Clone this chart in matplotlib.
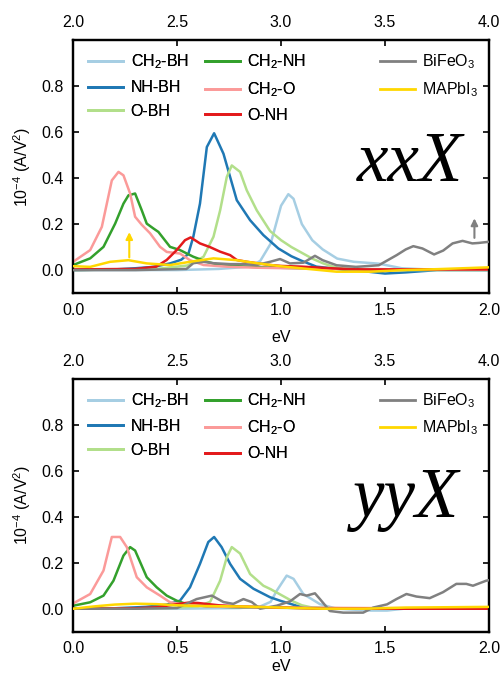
import numpy as np
import matplotlib.pyplot as plt
from matplotlib.lines import Line2D

plt.rcParams['font.family'] = ['Liberation Sans', 'DejaVu Sans']
plt.rcParams['mathtext.default'] = 'regular'
plt.rcParams['font.size'] = 11.5

labels = ['CH$_2$-BH', 'NH-BH', 'O-BH', 'CH$_2$-NH', 'CH$_2$-O', 'O-NH']
colors = ['#a6cee3', '#1f78b4', '#b2df8a', '#33a02c', '#fb9a99', '#e31a1c']
ref_labels = ['BiFeO$_3$', 'MAPbI$_3$']
ref_colors = ['#808080', '#ffd700']

# ---- xxX component (bottom axis, eV) ----
xx_ch2bh_x = [0, 0.5, 0.7, 0.85, 0.9, 0.95, 1.0, 1.035, 1.06, 1.1, 1.15, 1.2, 1.27, 1.35, 1.47, 1.58, 1.7, 2.0]
xx_ch2bh_y = [0, 0.0, 0.005, 0.015, 0.04, 0.115, 0.28, 0.33, 0.31, 0.2, 0.13, 0.09, 0.05, 0.036, 0.028, 0.008, 0.003, 0.0]

xx_nhbh_x = [0, 0.2, 0.3, 0.386, 0.466, 0.52, 0.554, 0.578, 0.61, 0.643, 0.678, 0.723, 0.755, 0.787,
             0.851, 0.915, 0.987, 1.05, 1.1, 1.17, 1.3, 1.4, 1.5, 1.6, 1.75, 2.0]
xx_nhbh_y = [0, 0.003, 0.008, 0.014, 0.029, 0.045, 0.07, 0.145, 0.289, 0.535, 0.595, 0.506, 0.405, 0.304,
             0.217, 0.152, 0.094, 0.06, 0.04, 0.015, 0.002, -0.005, -0.015, -0.01, 0.0, 0.0]

xx_obh_x = [0, 0.4, 0.55, 0.627, 0.675, 0.707, 0.739, 0.763, 0.803, 0.835, 0.883, 0.947, 1.0, 1.05,
            1.1, 1.15, 1.2, 1.25, 1.3, 1.4, 2.0]
xx_obh_y = [0, 0.005, 0.02, 0.058, 0.145, 0.26, 0.405, 0.455, 0.427, 0.347, 0.26, 0.17, 0.13, 0.1,
            0.075, 0.05, 0.03, 0.015, 0.005, 0.0, 0.0]

xx_ch2nh_x = [0, 0.082, 0.146, 0.202, 0.242, 0.266, 0.298, 0.33, 0.354, 0.386, 0.41, 0.466, 0.514,
              0.578, 0.643, 0.707, 0.787, 0.9, 1.1, 1.4, 2.0]
xx_ch2nh_y = [0.022, 0.051, 0.101, 0.202, 0.289, 0.325, 0.333, 0.26, 0.202, 0.181, 0.166, 0.101, 0.087,
              0.058, 0.036, 0.022, 0.017, 0.012, 0.008, 0.004, 0.002]

xx_ch2o_x = [0, 0.082, 0.138, 0.186, 0.218, 0.242, 0.274, 0.298, 0.33, 0.37, 0.418, 0.45, 0.514,
             0.562, 0.627, 0.755, 0.9, 1.1, 1.4, 2.0]
xx_ch2o_y = [0.036, 0.087, 0.188, 0.39, 0.427, 0.412, 0.333, 0.232, 0.197, 0.16, 0.101, 0.079, 0.072,
             0.043, 0.022, 0.014, 0.01, 0.007, 0.004, 0.002]

xx_onh_x = [0, 0.3, 0.4, 0.45, 0.498, 0.538, 0.565, 0.61, 0.658, 0.707, 0.755, 0.787, 0.835, 0.883,
            0.947, 1.0, 1.1, 1.2, 1.3, 1.4, 2.0]
xx_onh_y = [0.003, 0.005, 0.015, 0.044, 0.087, 0.13, 0.142, 0.116, 0.1, 0.08, 0.065, 0.044, 0.036, 0.03,
            0.022, 0.018, 0.015, 0.01, 0.005, 0.003, 0.003]

# reference materials (top axis, eV)
xx_bfo_x = [2.0, 2.3, 2.545, 2.578, 2.627, 2.675, 2.755, 2.819, 2.883, 2.947, 2.995, 3.043, 3.107,
            3.163, 3.2, 3.267, 3.36, 3.47, 3.556, 3.6, 3.636, 3.68, 3.736, 3.78, 3.825, 3.873,
            3.92, 3.95, 4.0]
xx_bfo_y = [0.0, 0.0, 0.005, 0.03, 0.036, 0.03, 0.026, 0.026, 0.022, 0.036, 0.048, 0.029, 0.032,
            0.062, 0.043, 0.021, 0.014, 0.021, 0.065, 0.09, 0.104, 0.094, 0.068, 0.085, 0.116, 0.127,
            0.116, 0.118, 0.123]

xx_mapi_x = [2.0, 2.082, 2.178, 2.266, 2.354, 2.466, 2.562, 2.675, 2.787, 2.883, 2.995, 3.107,
             3.267, 3.43, 3.59, 3.75, 4.0]
xx_mapi_y = [0.017, 0.014, 0.036, 0.043, 0.029, 0.022, 0.036, 0.051, 0.043, 0.03, 0.017, 0.007,
             -0.007, -0.007, 0.0, 0.004, 0.012]

# ---- yyX component ----
yy_ch2bh_x = [0, 0.5, 0.8, 0.9, 0.95, 0.979, 1.027, 1.06, 1.107, 1.187, 1.267, 1.43, 1.51, 1.59, 1.7, 2.0]
yy_ch2bh_y = [0, 0.0, 0.003, 0.01, 0.03, 0.078, 0.144, 0.13, 0.064, 0.02, 0.0, -0.008, -0.008, 0.0, 0.0, 0.0]

yy_nhbh_x = [0, 0.2, 0.35, 0.45, 0.514, 0.562, 0.61, 0.65, 0.678, 0.714, 0.755, 0.803, 0.867,
             0.947, 0.995, 1.075, 1.15, 1.3, 2.0]
yy_nhbh_y = [0, 0.002, 0.008, 0.018, 0.035, 0.093, 0.195, 0.29, 0.312, 0.268, 0.195, 0.13, 0.087,
             0.05, 0.035, 0.013, 0.003, 0.0, 0.0]

yy_obh_x = [0, 0.45, 0.6, 0.659, 0.707, 0.739, 0.763, 0.803, 0.851, 0.915, 0.95, 1.0, 1.05, 1.1,
            1.15, 1.3, 2.0]
yy_obh_y = [0, 0.003, 0.01, 0.03, 0.122, 0.224, 0.268, 0.24, 0.151, 0.1, 0.085, 0.06, 0.035, 0.015,
            0.005, 0.0, 0.0]

yy_ch2nh_x = [0, 0.082, 0.146, 0.194, 0.242, 0.274, 0.298, 0.354, 0.402, 0.45, 0.498, 0.546, 0.65,
              0.8, 1.0, 1.3, 2.0]
yy_ch2nh_y = [0.013, 0.028, 0.057, 0.122, 0.231, 0.268, 0.253, 0.137, 0.093, 0.057, 0.035, 0.02, 0.01,
              0.006, 0.004, 0.002, 0.001]

yy_ch2o_x = [0, 0.082, 0.146, 0.186, 0.226, 0.258, 0.306, 0.354, 0.418, 0.466, 0.514, 0.65, 0.8,
             1.0, 1.4, 2.0]
yy_ch2o_y = [0.023, 0.064, 0.166, 0.312, 0.312, 0.268, 0.137, 0.093, 0.057, 0.028, 0.021, 0.01, 0.007,
             0.005, 0.003, 0.002]

yy_onh_x = [0, 0.3, 0.4, 0.5, 0.55, 0.6, 0.7, 0.8, 1.0, 1.2, 2.0]
yy_onh_y = [0.0, 0.002, 0.006, 0.02, 0.026, 0.025, 0.015, 0.01, 0.005, 0.0, 0.0]

yy_bfo_x = [2.0, 2.3, 2.5, 2.594, 2.667, 2.723, 2.77, 2.819, 2.859, 2.899, 2.979, 3.043, 3.091,
            3.123, 3.163, 3.187, 3.235, 3.299, 3.395, 3.443, 3.51, 3.555, 3.603, 3.651, 3.715,
            3.779, 3.843, 3.891, 3.923, 3.987, 4.0]
yy_bfo_y = [0.0, 0.0, 0.003, 0.042, 0.057, 0.029, 0.021, 0.042, 0.029, 0.0, 0.013, 0.032, 0.064,
            0.057, 0.067, 0.042, -0.01, -0.017, -0.017, 0.005, 0.019, 0.042, 0.064, 0.053, 0.046,
            0.072, 0.108, 0.108, 0.1, 0.122, 0.124]

yy_mapi_x = [2.0, 2.1, 2.2, 2.3, 2.4, 2.5, 2.6, 2.8, 3.0, 3.2, 3.4, 3.6, 4.0]
yy_mapi_y = [0.0, 0.01, 0.018, 0.022, 0.02, 0.015, 0.012, 0.01, 0.005, 0.0, 0.0, 0.005, 0.008]

panels = [
    ('xxX', [(xx_ch2bh_x, xx_ch2bh_y), (xx_nhbh_x, xx_nhbh_y), (xx_obh_x, xx_obh_y),
             (xx_ch2nh_x, xx_ch2nh_y), (xx_ch2o_x, xx_ch2o_y), (xx_onh_x, xx_onh_y)],
     [(xx_bfo_x, xx_bfo_y), (xx_mapi_x, xx_mapi_y)]),
    ('yyX', [(yy_ch2bh_x, yy_ch2bh_y), (yy_nhbh_x, yy_nhbh_y), (yy_obh_x, yy_obh_y),
             (yy_ch2nh_x, yy_ch2nh_y), (yy_ch2o_x, yy_ch2o_y), (yy_onh_x, yy_onh_y)],
     [(yy_bfo_x, yy_bfo_y), (yy_mapi_x, yy_mapi_y)]),
]

fig = plt.figure(figsize=(5.01, 6.8), dpi=100)
boxes = [[0.146, 0.569, 0.830, 0.372], [0.146, 0.071, 0.830, 0.372]]
label_pads = [9, 2]
text_pos = [(0.81, 0.443), (0.80, 0.455)]

for k, (name, mols, refs) in enumerate(panels):
    ax = fig.add_axes(boxes[k])
    top = ax.twiny()

    for (x, y), c in zip(mols, colors):
        ax.plot(x, y, color=c, lw=1.8, zorder=3)
    for (x, y), c in zip(refs, ref_colors):
        top.plot(x, y, color=c, lw=1.8, zorder=3)

    ax.set_xlim(0, 2)
    ax.set_ylim(-0.1, 1.0)
    top.set_xlim(2, 4)
    ax.set_xticks([0, 0.5, 1.0, 1.5, 2.0])
    ax.set_yticks([0, 0.2, 0.4, 0.6, 0.8])
    top.set_xticks([2.0, 2.5, 3.0, 3.5, 4.0])
    ax.set_xticklabels(['%.1f' % v for v in ax.get_xticks()])
    top.set_xticklabels(['%.1f' % v for v in top.get_xticks()])

    ax.tick_params(axis='x', direction='in', length=4, width=1.2, pad=7)
    ax.tick_params(axis='y', direction='in', length=4, width=1.2, pad=7, right=True)
    top.tick_params(axis='x', direction='in', length=4, width=1.2, pad=7)
    for a in (ax, top):
        for s in a.spines.values():
            s.set_linewidth(1.6)

    ax.set_xlabel('eV', labelpad=label_pads[k])
    ax.set_ylabel('$10^{-4}$ (A/V$^2$)', labelpad=6)

    h1 = [Line2D([], [], color=c, lw=2) for c in colors]
    leg1 = ax.legend(h1, labels, ncol=2, loc='upper left', bbox_to_anchor=(0.017, 0.982),
                     frameon=False, borderpad=0, handlelength=2.2, handletextpad=0.45,
                     columnspacing=1.0, labelspacing=0.55)
    ax.add_artist(leg1)
    h2 = [Line2D([], [], color=c, lw=2) for c in ref_colors]
    top.legend(h2, ref_labels, loc='upper left', bbox_to_anchor=(0.718, 0.982),
               frameon=False, borderpad=0, handlelength=2.2, handletextpad=0.45,
               labelspacing=0.55)

    top.text(text_pos[k][0], text_pos[k][1], name, transform=ax.transAxes, ha='center',
             va='baseline', fontsize=51, style='italic', family='Liberation Serif')

    if k == 0:
        ax.annotate('', xy=(0.27, 0.165), xytext=(0.27, 0.055),
                    arrowprops=dict(arrowstyle='-|>', color='#ffd700', lw=1.5,
                                    mutation_scale=10, shrinkA=0, shrinkB=0))
        top.annotate('', xy=(3.93, 0.225), xytext=(3.93, 0.14),
                     arrowprops=dict(arrowstyle='-|>', color='#808080', lw=1.5,
                                     mutation_scale=10, shrinkA=0, shrinkB=0))

fig.savefig('out.png', dpi=100)
